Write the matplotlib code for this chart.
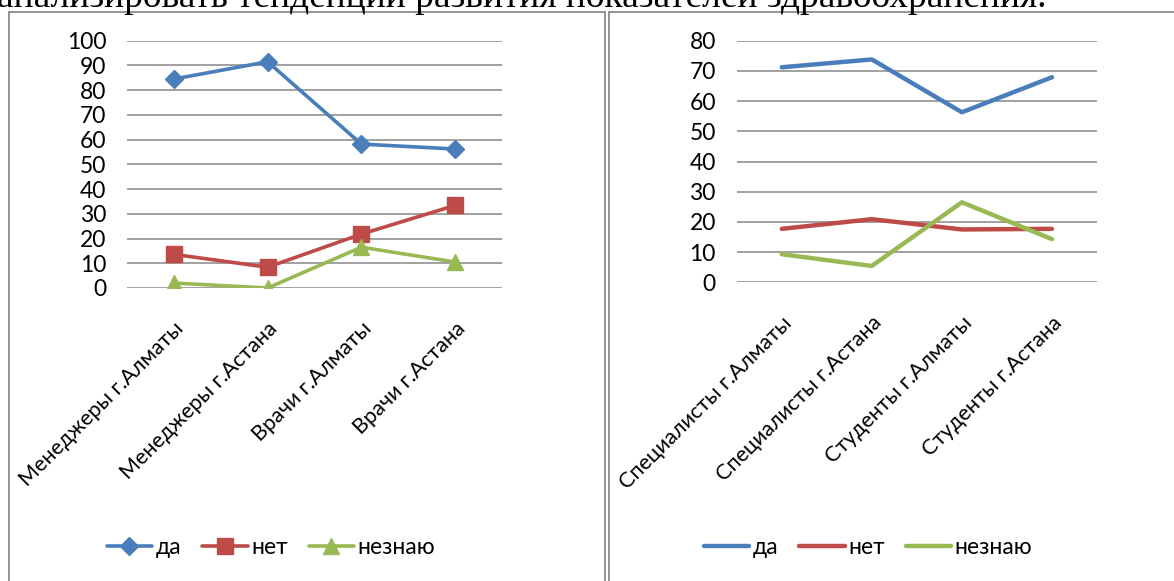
import matplotlib.pyplot as plt
from matplotlib.patches import Rectangle
from matplotlib.transforms import ScaledTranslation

# данные опроса: две группы респондентов
groups_left = ['Менеджеры г.Алматы', 'Менеджеры г.Астана', 'Врачи г.Алматы', 'Врачи г.Астана']
da_left = [84.5, 91.5, 58.2, 56.2]
net_left = [13.6, 8.4, 21.8, 33.4]
neznayu_left = [2.0, 0.0, 16.5, 10.5]

groups_right = ['Специалисты г.Алматы', 'Специалисты г.Астана', 'Студенты г.Алматы', 'Студенты г.Астана']
da_right = [71.2, 73.8, 56.3, 67.9]
net_right = [17.7, 20.9, 17.5, 17.7]
neznayu_right = [9.3, 5.4, 26.5, 14.3]

series_names = ['да', 'нет', 'незнаю']
colors = ['#4A7EBB', '#BE4B48', '#98B954']
markers = ['D', 's', '^']

plt.rcParams['font.family'] = ['Lato', 'DejaVu Sans']
plt.rcParams['font.size'] = 16.5

W, H = 1174, 581
fig = plt.figure(figsize=(W / 100, H / 100), dpi=100)

# строка текста документа над диаграммами
fig.text(-3 / W, 1 - 7 / H, 'анализировать тенденции развития показателей здравоохранения.',
         family='Liberation Serif', fontsize=27, ha='left', va='baseline')

# рамки диаграмм
for x0, x1 in [(9, 605), (609, 1200)]:
    fig.patches.append(Rectangle((x0 / W, -0.1), (x1 - x0) / W, 1.1 - 12 / H,
                                 transform=fig.transFigure, fill=False,
                                 edgecolor='#8c8c8c', lw=1.3))


def draw(box, cats, data, ymax, with_markers, legend_xy):
    ax = fig.add_axes([box[0] / W, 1 - box[3] / H, (box[2] - box[0]) / W, (box[3] - box[1]) / H])
    x = range(len(cats))
    for vals, name, c, m in zip(data, series_names, colors, markers):
        if with_markers:
            ax.plot(x, vals, color=c, lw=2.6, marker=m, ms=11 if m != 'D' else 9.5,
                    markeredgecolor=c, label=name, solid_capstyle='round', zorder=3)
        else:
            ax.plot(x, vals, color=c, lw=3.2, label=name, solid_capstyle='round', zorder=3)
    ax.set_xlim(-0.5, len(cats) - 0.5)
    ax.set_ylim(0, ymax)
    ax.set_yticks(range(0, ymax + 1, 10))
    ax.yaxis.grid(True, color='#888888', lw=1.1)
    ax.set_axisbelow(True)
    for s in ax.spines.values():
        s.set_visible(False)
    ax.tick_params(length=0)
    ax.tick_params(axis='y', pad=15)
    ax.set_xticks(list(x))
    ax.set_xticklabels(cats, rotation=45, ha='right', va='center', rotation_mode='anchor',
                       fontsize=15.5)
    ax.tick_params(axis='x', pad=27)
    for lab in ax.get_xticklabels():
        lab.set_transform(lab.get_transform() + ScaledTranslation(0.07, 0, fig.dpi_scale_trans))
    ax.legend(loc='center', bbox_to_anchor=(legend_xy[0] / W, 1 - legend_xy[1] / H),
              bbox_transform=fig.transFigure, ncol=3, frameon=False,
              handlelength=2.0, handletextpad=0.15, columnspacing=0.9)
    return ax


draw((127, 40.7, 502, 288), groups_left, [da_left, net_left, neznayu_left], 100, True, (271, 548))
draw((736.7, 40.7, 1097, 282.3), groups_right, [da_right, net_right, neznayu_right], 80, False, (868, 548))

fig.savefig('out.png', dpi=100, facecolor='white')
